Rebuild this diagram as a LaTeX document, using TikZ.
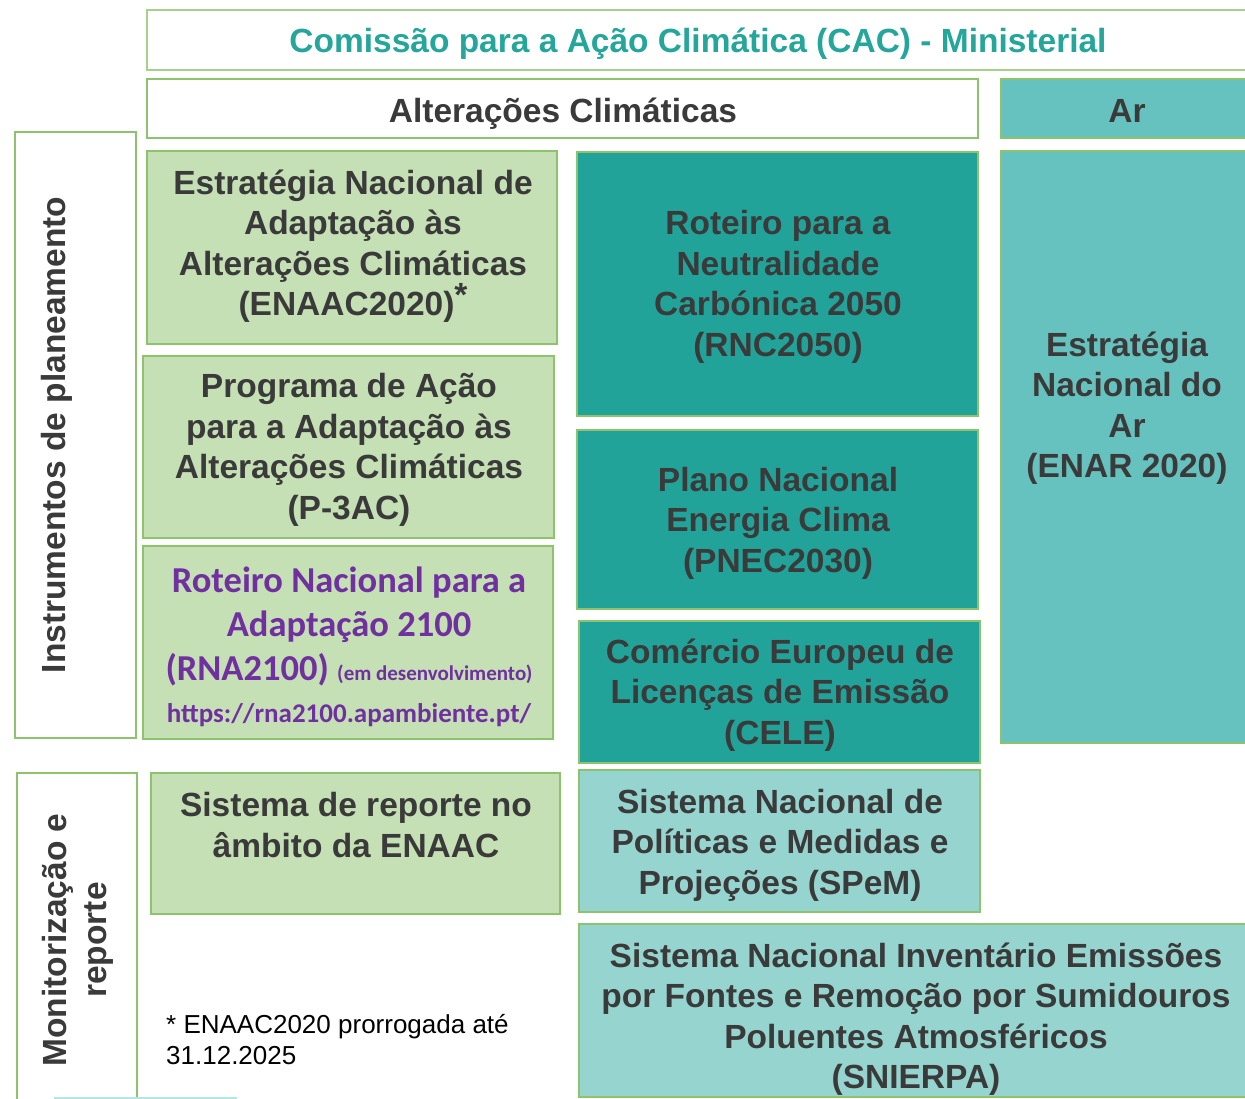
\documentclass[tikz,border=0pt]{standalone}
\usepackage{fontspec}
\setmainfont{Liberation Sans}
\newfontfamily\calibri{Carlito}
\usetikzlibrary{fit}
\definecolor{bord}{HTML}{8CC36C}
\definecolor{bordlight}{HTML}{A8D08D}
\definecolor{lgreen}{HTML}{C5E0B4}
\definecolor{dteal}{HTML}{22A39A}
\definecolor{mteal}{HTML}{66C2BF}
\definecolor{lteal}{HTML}{96D5CF}
\definecolor{ttl}{HTML}{25A69B}
\definecolor{txt}{HTML}{3A3A3A}
\definecolor{purp}{HTML}{7030A0}
\definecolor{paleline}{HTML}{B5E6DF}
\tikzset{
  box/.style={draw=bord, line width=1.5pt, inner sep=0pt},
  lbl/.style={inner sep=0pt, align=center, text=txt, font=\bfseries\fontsize{33.5}{40.5}\selectfont},
}
\begin{document}
\begin{tikzpicture}[x=1pt,y=-1pt]
\useasboundingbox (0,0) rectangle (1245,1099);
% header
\node[box, draw=bordlight, fill=white, fit={(147,10) (1260,70)}] (title) {};
\node[lbl, text=ttl] (titletxt) at (698,44) {Comissão para a Ação Climática (CAC) - Ministerial};
\node[box, fill=white, fit={(147,79) (978,138)}] (alt) {};
\node[lbl] (alttxt) at (563,114) {Alterações Climáticas};
\node[box, fill=mteal, fit={(1001,79) (1260,138)}] (ar) {};
\node[lbl] (artxt) at (1127,111) {Ar};
% side labels
\node[box, fill=white, fit={(15,132) (136,738)}] (instr) {};
\node[lbl, rotate=90] (instrtxt) at (57,435) {Instrumentos de planeamento};
\node[box, fill=white, fit={(17,773) (137,1110)}] (monit) {};
\node[lbl, rotate=90] (monittxt) at (78,940) {Monitorização e\\reporte};
% left column
\node[box, fill=lgreen, fit={(147,151) (557,344)}] (enaac) {};
\node[lbl] (enaactxt) at (353,246) {Estratégia Nacional de\\Adaptação às\\Alterações Climáticas\\(ENAAC2020)\raisebox{0.28em}[0pt][0pt]{*}};
\node[box, fill=lgreen, fit={(143,356) (554,538)}] (p3ac) {};
\node[lbl] (p3actxt) at (349,450) {Programa de Ação\\para a Adaptação às\\Alterações Climáticas\\(P-3AC)};
\node[box, fill=lgreen, fit={(143,546) (553,739)}] (rna) {};
\node[lbl, text=purp, font=\calibri\bfseries\fontsize{36.5}{44}\selectfont] (rnatxt) at (349,626) {Roteiro Nacional para a\\Adaptação 2100\\(RNA2100) {\fontsize{21}{25}\selectfont (em desenvolvimento)}};
\node[lbl, text=purp, font=\calibri\bfseries\fontsize{27}{32}\selectfont] (rnaurl) at (349,715) {https://rna2100.apambiente.pt/};
\node[box, fill=lgreen, fit={(151,773) (560,914)}] (rep) {};
\node[lbl] (reptxt) at (356,825) {Sistema de reporte no\\âmbito da ENAAC};
\node[inner sep=0pt, align=left, anchor=west, text=black, font=\fontsize{26}{31}\selectfont] (note) at (166,1040) {* ENAAC2020 prorrogada até\\31.12.2025};
% middle column
\node[box, fill=dteal, fit={(577,152) (978,416)}] (rnc) {};
\node[lbl] (rnctxt) at (778,287) {Roteiro para a\\Neutralidade\\Carbónica 2050\\(RNC2050)};
\node[box, fill=dteal, fit={(577,430) (978,609)}] (pnec) {};
\node[lbl] (pnectxt) at (778,523) {Plano Nacional\\Energia Clima\\(PNEC2030)};
\node[box, fill=dteal, fit={(579,621) (980,763)}] (cele) {};
\node[lbl] (celetxt) at (780,695) {Comércio Europeu de\\Licenças de Emissão\\(CELE)};
\node[box, fill=lteal, fit={(579,770) (980,912)}] (spem) {};
\node[lbl] (spemtxt) at (780,845) {Sistema Nacional de\\Políticas e Medidas e\\Projeções (SPeM)};
\node[box, fill=lteal, fit={(579,924) (1260,1097)}] (snierpa) {};
\node[lbl] (snierpatxt) at (916,1019) {Sistema Nacional Inventário Emissões\\por Fontes e Remoção por Sumidouros\\Poluentes Atmosféricos\\(SNIERPA)};
% right column
\node[box, fill=mteal, fit={(1001,151) (1260,743)}] (enar) {};
\node[lbl] (enartxt) at (1127,408) {Estratégia\\Nacional do\\Ar\\(ENAR 2020)};
% pale line at the bottom
\coordinate (pl1) at (54,1098);
\coordinate (pl2) at (237,1098);
\draw[paleline, line width=1.5pt] (pl1) -- (pl2);
\end{tikzpicture}
\end{document}
